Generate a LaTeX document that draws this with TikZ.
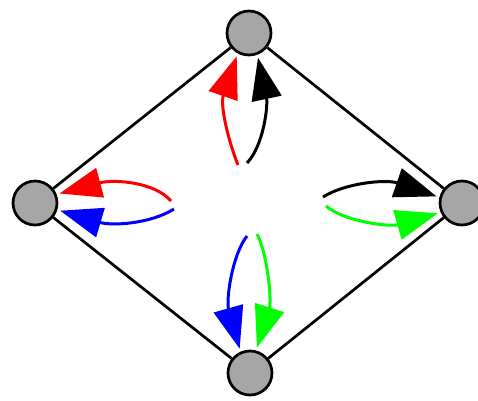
\documentclass[tikz,border=0pt]{standalone}
\usetikzlibrary{arrows.meta}
\definecolor{vgray}{RGB}{166,166,166}
\definecolor{pred}{RGB}{255,0,0}
\definecolor{pblue}{RGB}{0,0,255}
\definecolor{pgreen}{RGB}{0,255,0}
\begin{document}
\begin{tikzpicture}[x=1pt,y=-1pt,
  vtx/.style={circle,draw=black,line width=2.7pt,fill=vgray,minimum size=44pt,inner sep=0pt},
  edge/.style={line width=2.7pt,black},
  arr/.style={line width=3pt,-{Triangle[length=42pt,width=30pt]},shorten >=3pt}]
\useasboundingbox (0,0) rectangle (478,400);
\clip (0,0) rectangle (478,400);
% vertices
\node[vtx] (top) at (249,33) {};
\node[vtx] (left) at (35,203) {};
\node[vtx] (right) at (462,203) {};
\node[vtx] (bot) at (250,373) {};
% edges
\draw[edge] (top) -- (left);
\draw[edge] (top) -- (right);
\draw[edge] (left) -- (bot);
\draw[edge] (right) -- (bot);
% free ends of the arrows
\coordinate (sTR) at (238,165);
\coordinate (sTK) at (247,163);
\coordinate (sLR) at (171,201);
\coordinate (sLB) at (174,209);
\coordinate (sRK) at (323,197);
\coordinate (sRG) at (326,206);
\coordinate (sBB) at (247,236);
\coordinate (sBG) at (257,234);
% arrows
\draw[arr,pred] (sTR) .. controls (228,140) and (220,105) .. (top.241);
\draw[arr,black] (sTK) .. controls (264,145) and (268,105) .. (top.291);
\draw[arr,pred] (sLR) .. controls (155,182) and (114,179) .. (left.22);
\draw[arr,pblue] (sLB) .. controls (150,224) and (112,226) .. (left.343);
\draw[arr,black] (sRK) .. controls (345,183) and (386,179) .. (right.166);
\draw[arr,pgreen] (sRG) .. controls (345,222) and (390,227) .. (right.204);
\draw[arr,pblue] (sBB) .. controls (232,255) and (226,300) .. (bot.114);
\draw[arr,pgreen] (sBG) .. controls (267,252) and (272,300) .. (bot.75);
\end{tikzpicture}
\end{document}
